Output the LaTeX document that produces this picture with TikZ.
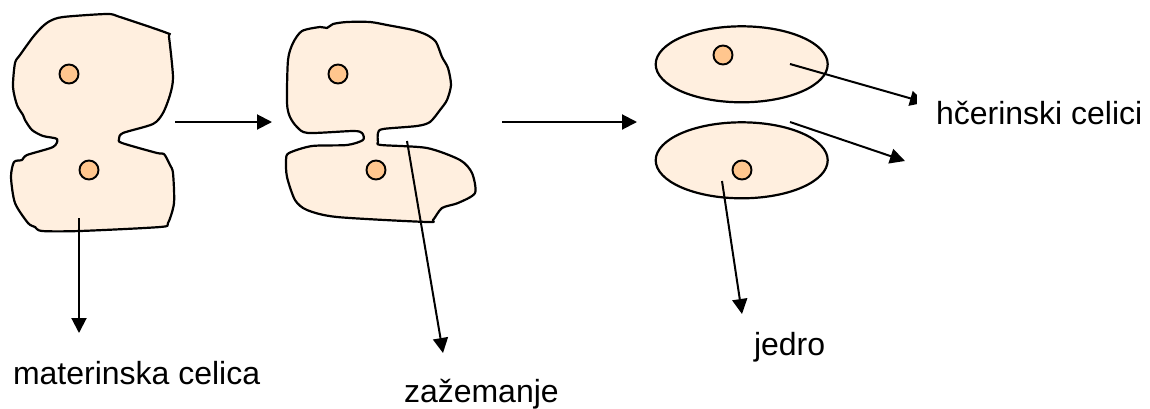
\documentclass[tikz,border=0pt]{standalone}
\usepackage{fontspec}
\setmainfont{Liberation Sans}
\usetikzlibrary{arrows.meta,shapes.geometric}
\definecolor{cellBg}{HTML}{FFEFDF}
\definecolor{nucleusBg}{HTML}{FFC68E}
\tikzset{
cellstyle/.style={draw, line width=2.2pt, fill=cellBg, line join=round},
ovalstyle/.style={ellipse, draw, line width=2.2pt, fill=cellBg, minimum width=172pt, minimum height=76pt, inner sep=0pt, outer sep=0pt},
nucleusstyle/.style={circle, draw, line width=1.9pt, fill=nucleusBg, minimum size=19pt, inner sep=0pt, outer sep=0pt},
labelstyle/.style={inner sep=0pt, outer sep=0pt, font=\fontsize{32}{38}\selectfont},
arrowstyle/.style={line width=2pt, -{Triangle[length=15pt, width=15pt]}}
}
\newcommand{\cell}[1]{
  \draw [cellstyle] plot [smooth cycle, tension=0.45] coordinates {#1};
}
\begin{document}
\begin{tikzpicture}[x=1pt, y=-1pt]
\useasboundingbox (0,0) rectangle (1150,408);

% dividing cell
\cell{(63,17) (107,14) (120,17) (167,33) (169,37) (173,77) (170,95) (163,113) (153,124) (123,133) (119,139) (122,143) (157,153) (164,154) (170,165) (173,173) (174,203) (168,223) (160,227) (80,231) (42,231) (35,227) (28,223) (15,203) (11,177) (14,162) (22,160) (27,155) (53,147) (57,139) (43,136) (32,130) (25,120) (23,115) (17,105) (13,87) (15,63) (20,55) (33,37) (42,27) (50,21)}
\node [nucleusstyle] (nucA) at (69,74) {};
\node [nucleusstyle] (nucB) at (89,170) {};

% constricted cell
\cell{(302,31) (320,27) (327,28) (333,24) (347,22) (370,22) (387,25) (413,30) (427,35) (436,42) (442,57) (448,68) (451,85) (447,100) (440,110) (430,122) (417,126) (383,129) (378,133) (378,142) (381,145) (427,148) (460,160) (472,173) (475,193) (458,203) (442,208) (433,220) (427,222) (337,217) (307,210) (295,200) (287,177) (286,160) (289,153) (312,146) (347,145) (363,140) (362,133) (353,131) (308,133) (297,127) (290,117) (287,103) (288,60) (293,43)}
\node [nucleusstyle] (nucC) at (338,74) {};
\node [nucleusstyle] (nucD) at (376,170) {};

% daughter cells
\node [ovalstyle] (ovalTop) at (741.7,64.3) {};
\node [ovalstyle] (ovalBot) at (741.7,160.3) {};
\node [nucleusstyle] (nucE) at (723,55) {};
\node [nucleusstyle] (nucF) at (742,170) {};

\coordinate (motherIn) at (79,218);
\coordinate (motherOut) at (79,333);
\coordinate (stepAIn) at (175,122);
\coordinate (stepAOut) at (272,122);
\coordinate (neckIn) at (407,141);
\coordinate (neckOut) at (443,353);
\coordinate (stepBIn) at (502,122);
\coordinate (stepBOut) at (637,122);
\coordinate (topIn) at (790,64);
\coordinate (topOut) at (925,102.5);
\coordinate (botIn) at (790,122);
\coordinate (botOut) at (905,161);
\coordinate (nucIn) at (722,181);
\coordinate (nucOut) at (742,314);

\draw [arrowstyle] (motherIn) -- (motherOut);
\draw [arrowstyle] (stepAIn) -- (stepAOut);
\draw [arrowstyle] (neckIn) -- (neckOut);
\draw [arrowstyle] (stepBIn) -- (stepBOut);
\draw [arrowstyle] (topIn) -- (topOut);
\draw [arrowstyle] (botIn) -- (botOut);
\draw [arrowstyle] (nucIn) -- (nucOut);

\fill [white] (917,85) rectangle (936,120);
\node [labelstyle, anchor=base west] (labDaughter) at (936,124) {hčerinski celici};
\node [labelstyle, anchor=base west] (labNucleus) at (754,355) {jedro};
\node [labelstyle, anchor=base west] (labMother) at (13,384) {materinska celica};
\node [labelstyle, anchor=base west] (labNeck) at (404,402) {zažemanje};
\end{tikzpicture}
\end{document}
